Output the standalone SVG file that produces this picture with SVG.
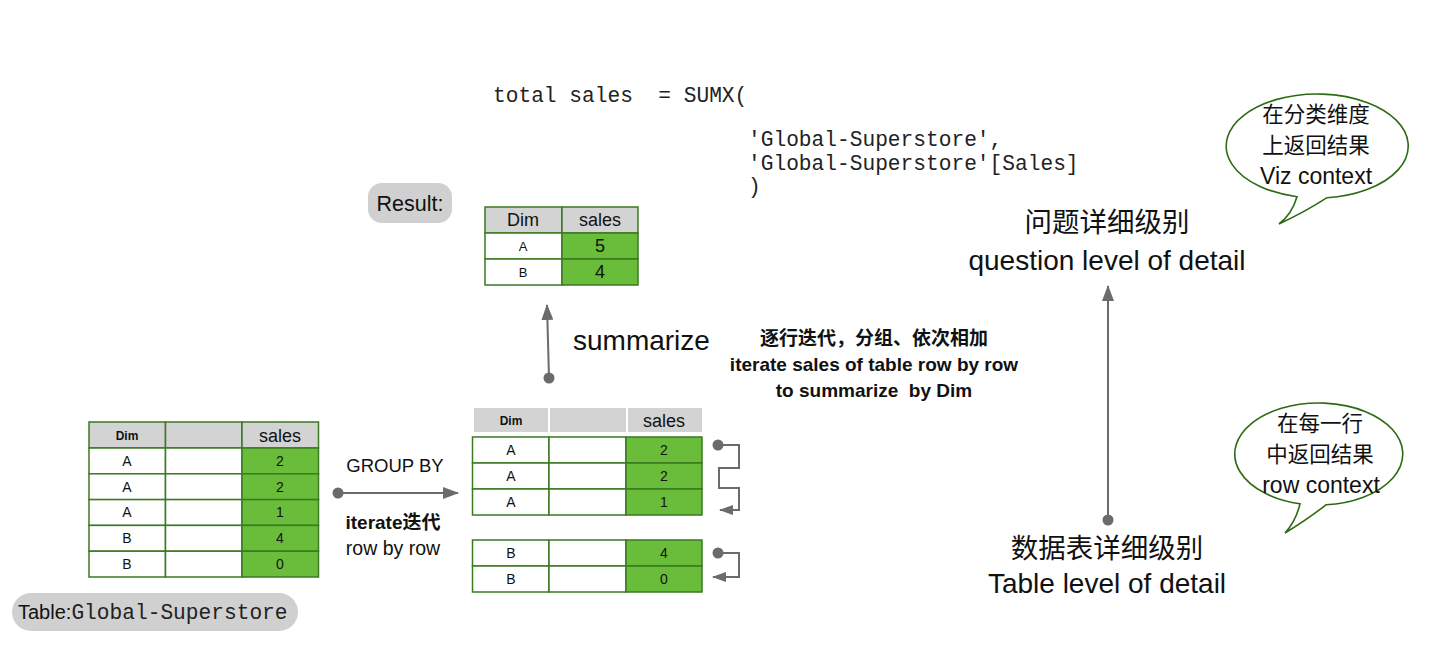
<svg xmlns="http://www.w3.org/2000/svg" width="1440" height="652" viewBox="0 0 1440 652">
<defs>
<style>
.sans{font-family:"Liberation Sans","Noto Sans CJK SC",Arial,sans-serif;fill:#111}
.mono{font-family:"Liberation Mono","Courier New",monospace;fill:#222}
.b{font-weight:bold}
.mid{text-anchor:middle}
.gcell{fill:#6abd3a;stroke:#3b7a22;stroke-width:1.5}
.wcell{fill:#fff;stroke:#3b7a22;stroke-width:1.5}
.hcell{fill:#d3d3d3;stroke:#3b7a22;stroke-width:1.5}
.hcell2{fill:#d3d3d3}
.pill{fill:#d0d0d0}
.conn{fill:none;stroke:#6b6b6b;stroke-width:2}
.bubble{fill:#fff;stroke:#2f6a12;stroke-width:1.6}
</style>
<marker id="arr" viewBox="0 0 16 12" refX="15" refY="6" markerWidth="16" markerHeight="12" markerUnits="userSpaceOnUse" orient="auto">
<path d="M0,0 L16,6 L0,12 z" fill="#6b6b6b"/>
</marker>
<marker id="arrs" viewBox="0 0 14 10" refX="13" refY="5" markerWidth="14" markerHeight="10" markerUnits="userSpaceOnUse" orient="auto">
<path d="M0,0 L14,5 L0,10 z" fill="#6b6b6b"/>
</marker>
<marker id="dot" viewBox="0 0 12 12" refX="6" refY="6" markerWidth="12" markerHeight="12" markerUnits="userSpaceOnUse">
<circle cx="6" cy="6" r="5.5" fill="#6b6b6b"/>
</marker>
</defs>
<rect width="1440" height="652" fill="#fff"/>

<!-- formula -->
<g id="formula" class="mono" font-size="21.2">
<text x="493" y="102" xml:space="preserve">total sales  = SUMX(</text>
<text x="748" y="146">'Global-Superstore',</text>
<text x="748" y="170">'Global-Superstore'[Sales]</text>
<text x="748" y="193">)</text>
</g>

<!-- Result label -->
<g id="result-label">
<rect class="pill" x="368" y="183" width="84" height="40" rx="14"/>
<text class="sans" x="410" y="211" font-size="21.5" text-anchor="middle">Result:</text>
</g>

<!-- Result table -->
<g id="result-table">
<rect class="hcell" x="485" y="207" width="77" height="26"/>
<rect class="hcell" x="562" y="207" width="76" height="26"/>
<rect class="wcell" x="485" y="233" width="77" height="26"/>
<rect class="gcell" x="562" y="233" width="76" height="26"/>
<rect class="wcell" x="485" y="259" width="77" height="26"/>
<rect class="gcell" x="562" y="259" width="76" height="26"/>
<text class="sans mid" x="523" y="226" font-size="18">Dim</text>
<text class="sans mid" x="600" y="226" font-size="18">sales</text>
<text class="sans mid" x="523" y="251" font-size="13">A</text>
<text class="sans mid" x="600" y="252" font-size="18">5</text>
<text class="sans mid" x="523" y="277" font-size="13">B</text>
<text class="sans mid" x="600" y="278" font-size="18">4</text>
</g>

<!-- Source table -->
<g id="source-table">
<rect class="hcell" x="89" y="422" width="76.5" height="26"/>
<rect class="hcell" x="165.5" y="422" width="76.5" height="26"/>
<rect class="hcell" x="242" y="422" width="76.5" height="26"/>
<g>
<rect class="wcell" x="89" y="448" width="76.5" height="25.8"/><rect class="wcell" x="165.5" y="448" width="76.5" height="25.8"/><rect class="gcell" x="242" y="448" width="76.5" height="25.8"/>
<rect class="wcell" x="89" y="473.8" width="76.5" height="25.8"/><rect class="wcell" x="165.5" y="473.8" width="76.5" height="25.8"/><rect class="gcell" x="242" y="473.8" width="76.5" height="25.8"/>
<rect class="wcell" x="89" y="499.6" width="76.5" height="25.8"/><rect class="wcell" x="165.5" y="499.6" width="76.5" height="25.8"/><rect class="gcell" x="242" y="499.6" width="76.5" height="25.8"/>
<rect class="wcell" x="89" y="525.4" width="76.5" height="25.8"/><rect class="wcell" x="165.5" y="525.4" width="76.5" height="25.8"/><rect class="gcell" x="242" y="525.4" width="76.5" height="25.8"/>
<rect class="wcell" x="89" y="551.2" width="76.5" height="25.8"/><rect class="wcell" x="165.5" y="551.2" width="76.5" height="25.8"/><rect class="gcell" x="242" y="551.2" width="76.5" height="25.8"/>
</g>
<text class="sans mid b" x="127" y="440" font-size="12">Dim</text>
<text class="sans mid" x="280" y="442" font-size="18">sales</text>
<text class="sans mid" x="127" y="466" font-size="14">A</text><text class="sans mid" x="280" y="466" font-size="14">2</text>
<text class="sans mid" x="127" y="492" font-size="14">A</text><text class="sans mid" x="280" y="492" font-size="14">2</text>
<text class="sans mid" x="127" y="517" font-size="14">A</text><text class="sans mid" x="280" y="517" font-size="14">1</text>
<text class="sans mid" x="127" y="543" font-size="14">B</text><text class="sans mid" x="280" y="543" font-size="14">4</text>
<text class="sans mid" x="127" y="569" font-size="14">B</text><text class="sans mid" x="280" y="569" font-size="14">0</text>
</g>

<!-- Table label -->
<g id="table-label">
<rect class="pill" x="12" y="593" width="286" height="38" rx="19"/>
<text x="18" y="619" font-size="20"><tspan class="sans">Table:</tspan><tspan class="mono" font-size="21.2">Global-Superstore</tspan></text>
</g>

<!-- Grouped table -->
<g id="grouped-table">
<rect class="hcell2" x="474" y="408" width="74" height="24"/>
<rect class="hcell2" x="550" y="408" width="76" height="24"/>
<rect class="hcell2" x="628" y="408" width="74" height="24"/>
<text class="sans mid b" x="511" y="425" font-size="12">Dim</text>
<text class="sans mid" x="664" y="427" font-size="18">sales</text>
<g id="group-a">
<rect class="wcell" x="472.5" y="437" width="76.5" height="26"/><rect class="wcell" x="549" y="437" width="77" height="26"/><rect class="gcell" x="626" y="437" width="76" height="26"/>
<rect class="wcell" x="472.5" y="463" width="76.5" height="26"/><rect class="wcell" x="549" y="463" width="77" height="26"/><rect class="gcell" x="626" y="463" width="76" height="26"/>
<rect class="wcell" x="472.5" y="489" width="76.5" height="26"/><rect class="wcell" x="549" y="489" width="77" height="26"/><rect class="gcell" x="626" y="489" width="76" height="26"/>
<text class="sans mid" x="511" y="455" font-size="14">A</text><text class="sans mid" x="664" y="455" font-size="14">2</text>
<text class="sans mid" x="511" y="481" font-size="14">A</text><text class="sans mid" x="664" y="481" font-size="14">2</text>
<text class="sans mid" x="511" y="507" font-size="14">A</text><text class="sans mid" x="664" y="507" font-size="14">1</text>
</g>
<g id="group-b">
<rect class="wcell" x="472.5" y="540" width="76.5" height="26"/><rect class="wcell" x="549" y="540" width="77" height="26"/><rect class="gcell" x="626" y="540" width="76" height="26"/>
<rect class="wcell" x="472.5" y="566" width="76.5" height="26"/><rect class="wcell" x="549" y="566" width="77" height="26"/><rect class="gcell" x="626" y="566" width="76" height="26"/>
<text class="sans mid" x="511" y="558" font-size="14">B</text><text class="sans mid" x="664" y="558" font-size="14">4</text>
<text class="sans mid" x="511" y="584" font-size="14">B</text><text class="sans mid" x="664" y="584" font-size="14">0</text>
</g>
</g>

<!-- connectors -->
<g id="connectors">
<path class="conn" d="M338,493 H458" marker-start="url(#dot)" marker-end="url(#arr)"/>
<path class="conn" d="M549,378 L547,305" marker-start="url(#dot)" marker-end="url(#arr)"/>
<path class="conn" d="M718,445 H739 V468 H719 V488 H739 V510 H720" marker-start="url(#dot)" marker-end="url(#arrs)"/>
<path class="conn" d="M718,553 H739 V577 H713" marker-start="url(#dot)" marker-end="url(#arrs)"/>
<path class="conn" d="M1108,520 V286" marker-start="url(#dot)" marker-end="url(#arr)"/>
</g>

<!-- connector labels -->
<g id="labels">
<text class="sans mid" x="395" y="472" font-size="18.5">GROUP BY</text>
<text class="sans mid b" x="393" y="529" font-size="19">iterate迭代</text>
<text class="sans mid" x="393" y="555" font-size="19.5">row by row</text>
<text class="sans" x="573" y="350" font-size="28">summarize</text>
<text class="sans mid b" x="874" y="345" font-size="19">逐行迭代，分组、依次相加</text>
<text class="sans mid b" x="874" y="371" font-size="19">iterate sales of table row by row</text>
<text class="sans mid b" x="874" y="397" font-size="19" xml:space="preserve">to summarize  by Dim</text>
</g>

<!-- level labels -->
<g id="question-level">
<text class="sans mid" x="1107" y="232" font-size="27.5">问题详细级别</text>
<text class="sans mid" x="1107" y="270" font-size="28">question level of detail</text>
</g>
<g id="table-level">
<text class="sans mid" x="1107" y="558" font-size="27.5">数据表详细级别</text>
<text class="sans mid" x="1107" y="593" font-size="28">Table level of detail</text>
</g>

<!-- bubbles -->
<g id="viz-bubble">
<path class="bubble" d="M1297,196.7 Q1292,214 1279,224 Q1305,212 1327,197.7 A91 52 0 1 0 1297,196.7 Z"/>
<text class="sans mid" x="1316" y="122" font-size="21.5">在分类维度</text>
<text class="sans mid" x="1316" y="153" font-size="21.5">上返回结果</text>
<text class="sans mid" x="1316" y="184" font-size="23">Viz context</text>
</g>
<g id="row-bubble">
<path class="bubble" d="M1300,503.7 Q1296,521 1285,533 Q1308,519 1326,504.8 A84 51 0 1 0 1300,503.7 Z"/>
<text class="sans mid" x="1320" y="431" font-size="21.5">在每一行</text>
<text class="sans mid" x="1320" y="462" font-size="21.5">中返回结果</text>
<text class="sans mid" x="1321" y="493" font-size="23">row context</text>
</g>
</svg>
